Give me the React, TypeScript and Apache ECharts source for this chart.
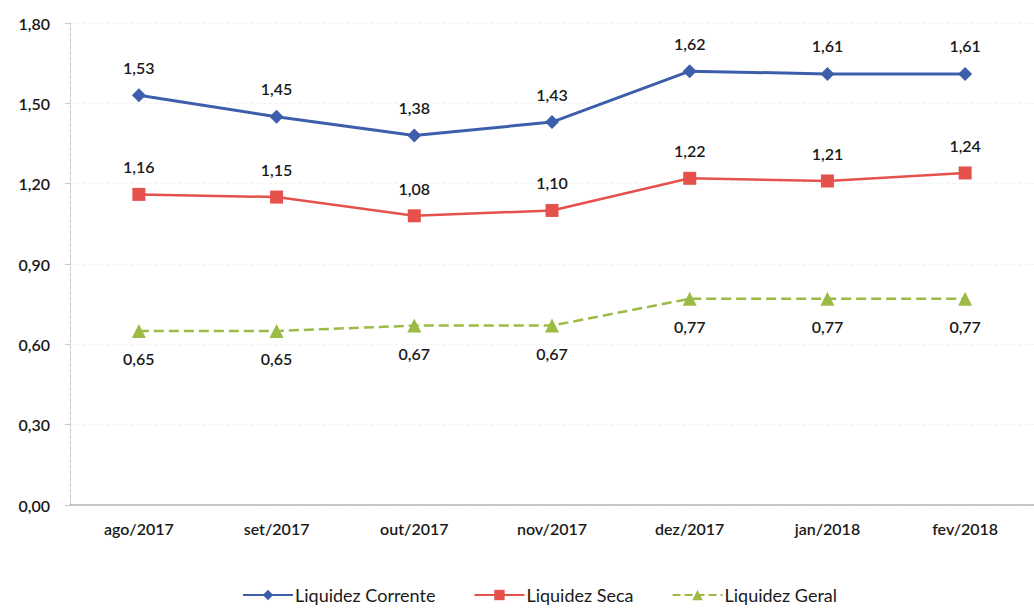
import React, { useEffect, useRef } from "react";
import * as echarts from "echarts";

const categories = ["ago/2017", "set/2017", "out/2017", "nov/2017", "dez/2017", "jan/2018", "fev/2018"];
const liquidezCorrente = [1.53, 1.45, 1.38, 1.43, 1.62, 1.61, 1.61];
const liquidezSeca = [1.16, 1.15, 1.08, 1.1, 1.22, 1.21, 1.24];
const liquidezGeral = [0.65, 0.65, 0.67, 0.67, 0.77, 0.77, 0.77];

const fmt = (v: number) => v.toFixed(2).replace(".", ",");
const FONT = "Lato";

export default function App() {
  const ref = useRef<HTMLDivElement>(null);
  useEffect(() => {
    if (!ref.current) return;
    const chart = echarts.init(ref.current, undefined, { renderer: "svg" });
    const labelStyle = {
      show: true,
      fontFamily: FONT,
      fontSize: 16,
      fontWeight: 600,
      color: "#1a1a1a",
      formatter: (p: any) => fmt(p.value),
    };
    chart.setOption({
      animation: false,
      backgroundColor: "#fff",
      textStyle: { fontFamily: FONT },
      grid: { left: 70, right: -11, top: 23, bottom: 104, containLabel: false },
      xAxis: {
        type: "category",
        data: categories,
        boundaryGap: true,
        axisLine: { show: true, lineStyle: { color: "#b5b5b5", width: 1.5 } },
        axisTick: { show: false },
        axisLabel: { fontFamily: FONT, fontSize: 16, fontWeight: 600, color: "#1a1a1a", margin: 15 },
      },
      yAxis: {
        type: "value",
        min: 0,
        max: 1.8,
        interval: 0.3,
        axisLine: { show: true, lineStyle: { color: "#c8c8c8", type: "dashed", width: 1 } },
        axisTick: { show: true, length: 5, lineStyle: { color: "#c8c8c8" } },
        splitLine: { show: true, lineStyle: { color: "#f4f4f4", type: "dashed" } },
        axisLabel: {
          fontFamily: FONT,
          fontSize: 16,
          fontWeight: 600,
          color: "#1a1a1a",
          margin: 20,
          formatter: (v: number) => fmt(v),
        },
      },
      legend: {
        bottom: 0,
        left: 237,
        itemGap: 38,
        itemWidth: 50,
        itemHeight: 13,
        textStyle: { fontFamily: FONT, fontSize: 18, color: "#1a1a1a", padding: [0, 0, 0, -3] },
        data: ["Liquidez Corrente", "Liquidez Seca", "Liquidez Geral"],
      },
      series: [
        {
          name: "Liquidez Corrente",
          type: "line",
          data: liquidezCorrente,
          symbol: "diamond",
          symbolSize: 14,
          itemStyle: { color: "#3d5fab" },
          lineStyle: { color: "#3d5fab", width: 3 },
          label: { ...labelStyle, position: "top", distance: 13 },
        },
        {
          name: "Liquidez Seca",
          type: "line",
          data: liquidezSeca,
          symbol: "rect",
          symbolSize: 13,
          itemStyle: { color: "#e5514b" },
          lineStyle: { color: "#e5514b", width: 2.5 },
          label: { ...labelStyle, position: "top", distance: 13 },
        },
        {
          name: "Liquidez Geral",
          type: "line",
          data: liquidezGeral,
          symbol: "triangle",
          symbolSize: 14,
          itemStyle: { color: "#9cbb45" },
          lineStyle: { color: "#9cbb45", width: 2.5, type: "dashed" },
          label: { ...labelStyle, position: "bottom", distance: 13 },
        },
      ],
    });
    return () => chart.dispose();
  }, []);
  return (
    <div
      ref={ref}
      style={{ position: "fixed", left: 0, top: 0, width: 1034, height: 609 }}
    />
  );
}
